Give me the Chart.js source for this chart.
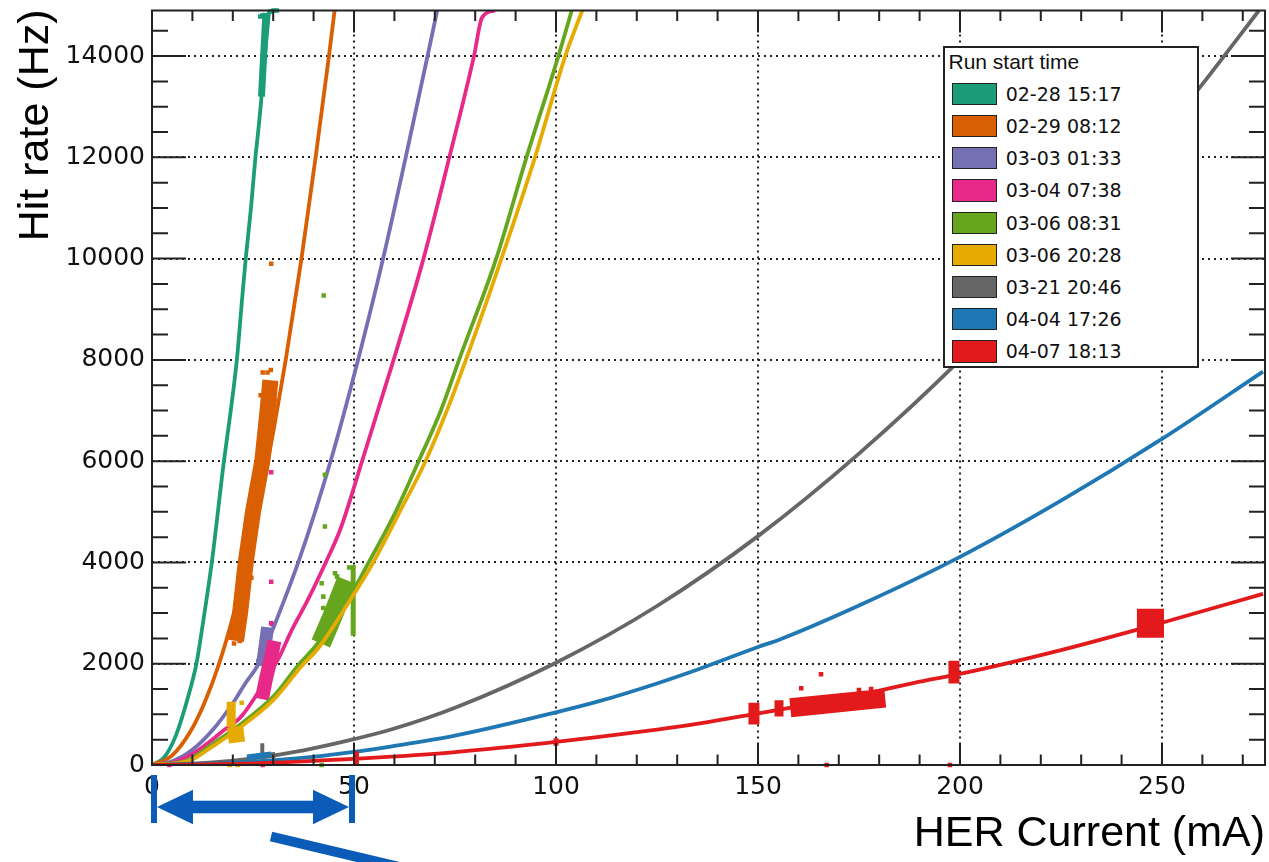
<!DOCTYPE html>
<html>
<head>
<meta charset="utf-8">
<script src="https://cdn.jsdelivr.net/npm/chart.js@4.4.1/dist/chart.umd.min.js"></script>
<style>
html, body { margin: 0; padding: 0; background: #fff; overflow: hidden; }
#wrap { position: relative; width: 1269px; height: 862px; }
#legend {
    position: absolute; left: 943px; top: 46px; width: 256px; height: 322px;
    box-sizing: border-box; border: 2px solid #222; background: #fff; color: #111;
}
#legend .ttl { position: absolute; left: 3.5px; top: 2.5px; font: 21px/21px 'Liberation Sans', Arial, sans-serif; white-space: nowrap; }
#legend .sw { position: absolute; left: 6.7px; width: 45.6px; height: 22.3px; box-sizing: border-box; border: 1.5px solid #222; }
#legend .lb { position: absolute; left: 60.7px; height: 22.3px; font: 19px/22.3px 'DejaVu Sans', sans-serif; white-space: nowrap; }
</style>
</head>
<body>
<div id="wrap">
    <canvas id="cv" width="1269" height="862"></canvas>
    <div id="legend"></div>
</div>
<script>
// axis ranges and tick steps
const xMax = 275.5;
const yMax = 14900;
const xMinorStep = 10, xMajorStep = 50;
const yMinorStep = 500, yMajorStep = 2000;

const runLabels = ['02-28 15:17', '02-29 08:12', '03-03 01:33', '03-04 07:38', '03-06 08:31',
                   '03-06 20:28', '03-21 20:46', '04-04 17:26', '04-07 18:13'];
const runColors = ['#1b9e77', '#d95f02', '#7570b3', '#e7298a', '#66a61e',
                   '#e6ab02', '#666666', '#1f78b4', '#e31a1c'];

// main curves: HER current (mA) and hit rate (Hz)
const cur0228 = [0, 3, 6, 9.3, 11.0, 12.7, 14.8, 17.8, 19.5, 21.0, 22.3, 23.2, 24.5, 25.6, 26.4, 27.0, 27.7, 28.4, 29.0];
const hz0228  = [0, 150, 600, 1450, 2000, 2850, 4000, 6000, 7000, 8000, 9200, 10000, 11000, 12000, 12600, 13100, 13800, 14400, 14900];
const cur0229 = [0, 5, 9.5, 13, 16.6, 20, 23.4, 26.5, 28.7, 30.5, 33.1, 37.0, 40.5, 43.8, 45.2];
const hz0229  = [0, 190, 660, 1230, 2000, 2920, 4000, 5120, 6000, 6800, 8000, 10000, 12000, 14000, 14900];
const cur0303 = [0, 5, 10, 15, 20, 23, 26.4, 30, 36.2, 44.2, 51.0, 57.2, 62.8, 68.2, 70.6];
const hz0303  = [0, 75, 300, 690, 1220, 1600, 2000, 2700, 4000, 6000, 8000, 10000, 12000, 14000, 14900];
const cur0304 = [0, 5, 10, 13.6, 18, 22, 26, 31.6, 34.5, 38.5, 43, 46.6, 52, 59.8, 67.2, 73.6, 79.7, 81.7, 84.9];
const hz0304  = [0, 50, 220, 420, 700, 950, 1400, 2150, 2650, 3250, 4000, 4650, 6000, 8000, 10000, 12000, 14000, 14760, 14900];
const cur0306a = [0, 9, 14, 22.5, 30, 36.5, 40.5, 48.5, 52.6, 60, 66, 71.5, 76, 85.2, 92.7, 100.6, 103.9];
const hz0306a  = [0, 100, 360, 840, 1350, 2000, 2350, 3250, 3850, 4950, 6000, 7000, 8000, 10000, 12000, 14000, 14900];
const cur0306b = [0, 9.3, 14.3, 22.8, 30, 37, 41.1, 49.3, 54.4, 61, 67.7, 73, 77.7, 86.5, 94.8, 102.3, 106.5];
const hz0306b  = [0, 85, 330, 800, 1280, 1950, 2300, 3290, 3950, 4950, 6000, 7000, 8000, 10000, 12000, 14000, 14900];
const cur0321 = [0, 15, 25, 37.5, 50, 59.4, 75, 100, 125, 150, 175, 200, 225, 250, 262, 274];
const hz0321  = [0, 50, 130, 290, 510, 705, 1130, 2020, 3140, 4520, 6150, 8000, 10100, 12450, 13650, 14900];
const cur0404 = [0, 20, 35, 50, 59.4, 75, 100, 110.7, 125, 135.6, 150, 155.4, 175, 200, 225, 250, 275];
const hz0404  = [0, 40, 125, 260, 370, 580, 1040, 1260, 1610, 1900, 2330, 2480, 3150, 4110, 5220, 6440, 7770];
const cur0407 = [0, 25, 50, 59.4, 75, 100, 110.7, 125, 135.6, 150, 165, 175, 190, 200, 225, 250, 275];
const hz0407  = [0, 30, 120, 165, 255, 455, 555, 700, 823, 1020, 1230, 1380, 1645, 1800, 2270, 2810, 3380];

// dense clusters of readings (drawn as thick strokes)
const blob0228Cur = [27.1, 27.5, 27.9, 28.2],  blob0228Hz = [13200, 13800, 14400, 14850];
const blob0229Cur = [20.8, 21.8, 23.2, 25.0, 27.3, 28.6, 29.3], blob0229Hz = [2450, 3000, 4000, 5000, 6000, 7000, 7600];
const blob0303Cur = [27.3, 28.0, 28.6], blob0303Hz = [1950, 2350, 2720];
const blob0304Cur = [27.2, 28.2, 29.4, 30.3], blob0304Hz = [1300, 1700, 2100, 2450];
const blob0306aCur = [41.8, 45.0, 48.2], blob0306aHz = [2400, 3000, 3650];
const spike0306aCur = [49.8, 49.8], spike0306aHz = [2550, 3950];
const blob0306bCur = [19.6, 19.6], blob0306bHz = [750, 1250];
const foot0306bCur = [18.8, 22.8], foot0306bHz = [580, 620];
const spike0321Cur = [27.3, 27.3], spike0321Hz = [100, 430];
const blob0321Cur = [26, 30.5], blob0321Hz = [170, 200];
const blob0404Cur = [23.5, 29.5], blob0404Hz = [150, 210];
const r50Cur = [50.6, 50.6], r50Hz = [0, 270];
const r100Cur = [100, 100], r100Hz = [380, 530];
const r150Cur = [149, 149], r150Hz = [800, 1230];
const r155Cur = [155.2, 155.2], r155Hz = [960, 1280];
const r170Cur = [158, 181.5], r170Hz = [1130, 1320];
const r200Cur = [198.5, 198.5], r200Hz = [1610, 2060];
const r250Cur = [243.8, 250.5], r250Hz = [2800, 2800];

// single stray readings
const dots0228Cur = [26.8, 27.3, 29.3, 30.1, 30.9], dots0228Hz = [14780, 14800, 14880, 14900, 14900];
const dots0229Cur = [27.4, 29.5, 28.6, 29.4, 26.9, 20.3, 21.7, 25.8, 30.3, 24.6];
const dots0229Hz  = [7750, 9900, 7750, 7800, 7300, 2400, 2450, 5500, 7200, 3700];
const dots0303Cur = [26.3, 29.8], dots0303Hz = [2050, 2780];
const dots0304Cur = [29.5, 29.5, 29.5, 27.4, 4.3], dots0304Hz = [5780, 3620, 2800, 0, 0];
const dots0306aCur = [42.0, 42.4, 42.4, 45.3, 45.8, 42.8, 42.8, 42.5, 42.0, 48.8];
const dots0306aHz  = [3590, 3325, 3100, 3785, 3720, 5730, 4710, 9270, 0, 3900];
const dots0306bCur = [22.2, 19.2, 21.2], dots0306bHz = [1230, 0, 0];
const dots0407Cur = [160.7, 165.6, 167, 197.5, 175, 178], dots0407Hz = [1515, 1790, 0, 0, 1480, 1500];

// the marked current range below the axis
const markFrom = 0, markTo = 50;

function pts(xs, ys) {
    return xs.map((v, i) => ({x: v, y: ys[i]}));
}

var datasets = [];
var curves = [[cur0228, hz0228], [cur0229, hz0229], [cur0303, hz0303], [cur0304, hz0304], [cur0306a, hz0306a],
              [cur0306b, hz0306b], [cur0321, hz0321], [cur0404, hz0404], [cur0407, hz0407]];
curves.forEach(function(c, i) {
    datasets.push({
        label: runLabels[i], data: pts(c[0], c[1]), showLine: true, pointRadius: 0,
        borderColor: runColors[i], borderWidth: 3.8, cubicInterpolationMode: 'monotone',
        order: 30 - i, clip: 0
    });
});

var blobs = [
    [0, blob0228Cur, blob0228Hz, 7], [1, blob0229Cur, blob0229Hz, 16], [2, blob0303Cur, blob0303Hz, 13],
    [3, blob0304Cur, blob0304Hz, 14], [4, blob0306aCur, blob0306aHz, 20], [4, spike0306aCur, spike0306aHz, 5],
    [5, blob0306bCur, blob0306bHz, 9], [5, foot0306bCur, foot0306bHz, 16], [6, spike0321Cur, spike0321Hz, 4],
    [6, blob0321Cur, blob0321Hz, 6], [7, blob0404Cur, blob0404Hz, 6], [8, r50Cur, r50Hz, 5],
    [8, r100Cur, r100Hz, 5], [8, r150Cur, r150Hz, 11], [8, r155Cur, r155Hz, 9], [8, r170Cur, r170Hz, 19],
    [8, r200Cur, r200Hz, 11], [8, r250Cur, r250Hz, 29]
];
blobs.forEach(function(b) {
    datasets.push({
        label: '', data: pts(b[1], b[2]), showLine: true, pointRadius: 0, borderColor: runColors[b[0]],
        borderWidth: b[3], borderCapStyle: 'butt', order: 30 - b[0], clip: 0
    });
});

var dots = [[0, dots0228Cur, dots0228Hz], [1, dots0229Cur, dots0229Hz], [2, dots0303Cur, dots0303Hz],
            [3, dots0304Cur, dots0304Hz], [4, dots0306aCur, dots0306aHz], [5, dots0306bCur, dots0306bHz],
            [8, dots0407Cur, dots0407Hz]];
dots.forEach(function(d) {
    datasets.push({
        label: '', data: pts(d[1], d[2]), showLine: false, pointStyle: 'rect', pointRadius: 3.2,
        backgroundColor: runColors[d[0]], borderWidth: 0, order: 30 - d[0], clip: 4
    });
});

/* ROOT style frame with inward ticks on all four sides, and the axis titles */
var rootFrame = {
    id: 'rootFrame',
    afterDatasetsDraw: function(chart) {
        var ctx = chart.ctx, a = chart.chartArea, x = chart.scales.x, y = chart.scales.y;
        ctx.save();
        ctx.strokeStyle = '#222';
        ctx.lineWidth = 2;
        ctx.strokeRect(a.left, a.top, a.right - a.left, a.bottom - a.top);
        ctx.beginPath();
        x.ticks.forEach(function(t) {
            var px = x.getPixelForValue(t.value);
            var len = t.value % xMajorStep === 0 ? 22 : 10.5;
            ctx.moveTo(px, a.bottom); ctx.lineTo(px, a.bottom - len);
            ctx.moveTo(px, a.top); ctx.lineTo(px, a.top + len);
        });
        y.ticks.forEach(function(t) {
            var py = y.getPixelForValue(t.value);
            var len = t.value % yMajorStep === 0 ? 34 : 16;
            ctx.moveTo(a.left, py); ctx.lineTo(a.left + len, py);
            ctx.moveTo(a.right, py); ctx.lineTo(a.right - len, py);
        });
        ctx.stroke();

        ctx.fillStyle = '#000';
        ctx.font = '43px "Liberation Sans", Arial, sans-serif';
        ctx.textBaseline = 'middle';
        ctx.textAlign = 'right';
        ctx.fillText('HER Current (mA)', a.right, a.bottom + 69);
        ctx.translate(36, a.top - 1);
        ctx.rotate(-Math.PI / 2);
        ctx.fillText('Hit rate (Hz)', 0, 0);
        ctx.restore();
    }
};

/* blue double arrow marking the low current range, plus the pointer line */
var rangeArrow = {
    id: 'rangeArrow',
    afterDraw: function(chart) {
        var ctx = chart.ctx, a = chart.chartArea, x = chart.scales.x;
        var x0 = x.getPixelForValue(markFrom) + 2, x1 = x.getPixelForValue(markTo) - 2;
        var yc = a.bottom + 42;
        ctx.save();
        ctx.fillStyle = '#0b5cb8';
        ctx.fillRect(x0 - 3, a.bottom + 10, 6, 48);
        ctx.fillRect(x1 - 3, a.bottom + 10, 6, 48);
        ctx.fillRect(x0 + 30, yc - 6.3, x1 - x0 - 60, 12.6);
        ctx.beginPath();
        ctx.moveTo(x0 + 3, yc); ctx.lineTo(x0 + 39, yc - 17.3); ctx.lineTo(x0 + 39, yc + 17.3); ctx.closePath();
        ctx.moveTo(x1 - 3, yc); ctx.lineTo(x1 - 39, yc - 17.3); ctx.lineTo(x1 - 39, yc + 17.3); ctx.closePath();
        ctx.fill();
        ctx.strokeStyle = '#0b5cb8';
        ctx.lineWidth = 10;
        ctx.beginPath();
        ctx.moveTo(x0 + 117, a.bottom + 71.5);
        ctx.lineTo(x0 + 300, a.bottom + 115);
        ctx.stroke();
        ctx.restore();
    }
};

function stepTicks(max, step) {
    return function(s) {
        var t = [];
        for (var v = 0; v <= max; v += step) t.push({value: v});
        s.ticks = t;
    };
}

function majorGrid(step) {
    return function(c) {
        return (c.tick && c.tick.value % step === 0 && c.tick.value > 0) ? '#222' : 'rgba(0,0,0,0)';
    };
}

var ctx = document.getElementById('cv').getContext('2d');
var chart = new Chart(ctx, {
    type: 'scatter',
    data: { datasets: datasets },
    plugins: [rootFrame, rangeArrow],
    options: {
        responsive: false,
        animation: false,
        events: [],
        layout: { padding: { left: 0, right: 3.5, top: 10.5, bottom: 0 } },
        plugins: { legend: { display: false }, tooltip: { enabled: false } },
        scales: {
            x: {
                type: 'linear', min: 0, max: xMax,
                afterBuildTicks: stepTicks(xMax, xMinorStep),
                afterFit: function(s) { s.height = 97; s.paddingLeft = 0; s.paddingRight = 0; },
                ticks: {
                    autoSkip: false, maxRotation: 0, padding: 7.5,
                    color: '#111', font: { family: 'DejaVu Sans', size: 25 },
                    callback: function(v) { return v % xMajorStep === 0 ? String(v) : ''; }
                },
                grid: { drawTicks: false, color: majorGrid(xMajorStep), lineWidth: 2 },
                border: { display: false, dash: [2, 4] }
            },
            y: {
                type: 'linear', min: 0, max: yMax,
                afterBuildTicks: stepTicks(yMax, yMinorStep),
                afterFit: function(s) { s.width = 152; s.paddingTop = 0; s.paddingBottom = 0; },
                ticks: {
                    autoSkip: false, padding: 7,
                    color: '#111', font: { family: 'DejaVu Sans', size: 25 },
                    callback: function(v) { return v % yMajorStep === 0 ? String(v) : ''; }
                },
                grid: { drawTicks: false, color: majorGrid(yMajorStep), lineWidth: 2 },
                border: { display: false, dash: [2, 4] }
            }
        }
    }
});

// legend box
var lg = document.getElementById('legend');
var html = '<div class="ttl">Run start time</div>';
runLabels.forEach(function(l, i) {
    var top = 34.7 + i * 32.2;
    html += '<div class="sw" style="top:' + top + 'px;background:' + runColors[i] + '"></div>';
    html += '<div class="lb" style="top:' + top + 'px">' + l + '</div>';
});
lg.innerHTML = html;
</script>
</body>
</html>
